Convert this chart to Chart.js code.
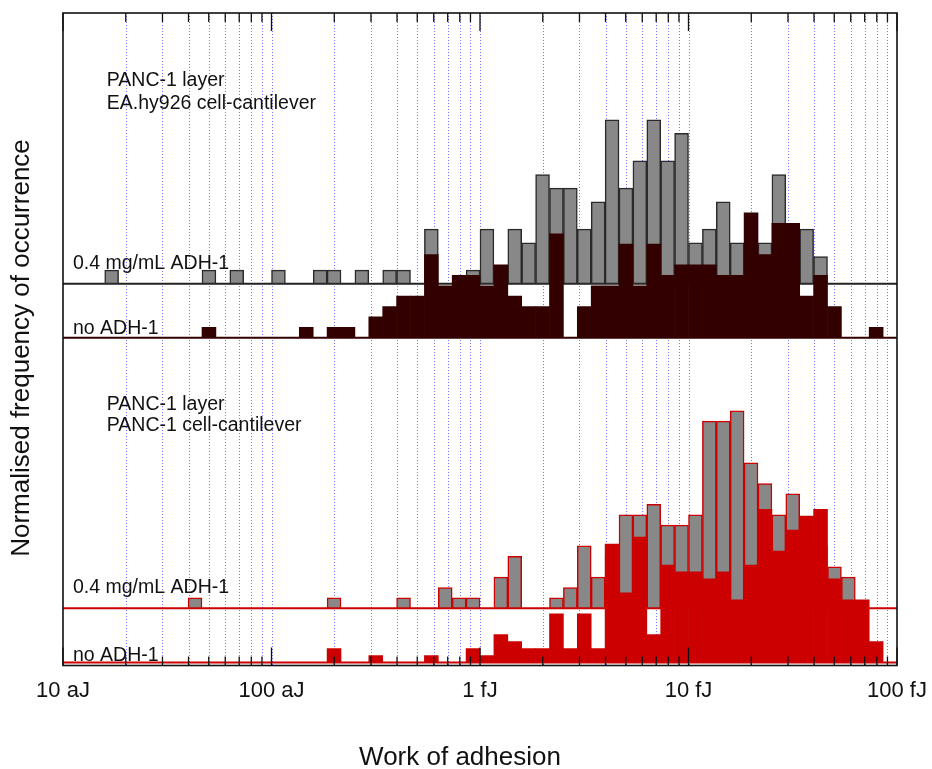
<!DOCTYPE html>
<html>
<head>
<meta charset="utf-8">
<title>Work of adhesion</title>
<script src="https://cdn.jsdelivr.net/npm/chart.js@4.4.1/dist/chart.umd.min.js"></script>
<style>
  body { margin: 0; background: #fff; }
  canvas { display: block; }
</style>
</head>
<body>
<canvas id="adhesion" width="932" height="769"></canvas>
<script>
// Work of adhesion, log10(J): 10 aJ .. 100 fJ, 15 bins per decade
var logMin = -17, logMax = -13, binsPerDecade = 15;
var tickLabels = ['10 aJ', '100 aJ', '1 fJ', '10 fJ', '100 fJ'];

// counts per bin, PANC-1 layer vs EA.hy926 cell-cantilever
var eaAdh = [
  0, 0, 0, 1, 0, 0, 0, 0, 0, 0,
  1, 0, 1, 0, 0, 1, 0, 0, 1, 1,
  0, 1, 0, 1, 1, 0, 4, 0, 0, 1,
  4, 1, 4, 3, 8, 7, 7, 4, 6, 12,
  7, 9, 12, 9, 11, 3, 4, 6, 3, 3,
  3, 8, 2, 4, 2, 0, 0, 0, 0, 0
];
var eaNoAdh = [
  0, 0, 0, 0, 0, 0, 0, 0, 0, 0,
  1, 0, 0, 0, 0, 0, 0, 1, 0, 1,
  1, 0, 2, 3, 4, 4, 8, 5, 6, 6,
  5, 7, 4, 3, 3, 10, 0, 3, 5, 5,
  9, 5, 9, 6, 7, 7, 7, 6, 6, 12,
  8, 11, 11, 4, 6, 3, 0, 0, 1, 0
];

// counts per bin, PANC-1 layer vs PANC-1 cell-cantilever
var pancAdh = [
  0, 0, 0, 0, 0, 0, 0, 0, 0, 1,
  0, 0, 0, 0, 0, 0, 0, 0, 0, 1,
  0, 0, 0, 0, 1, 0, 0, 2, 1, 1,
  0, 3, 5, 0, 0, 1, 2, 6, 3, 5,
  9, 9, 10, 8, 8, 9, 18, 18, 19, 14,
  12, 9, 11, 6, 6, 4, 3, 0, 0, 0
];
var pancNoAdh = [
  0, 0, 0, 0, 0, 0, 0, 0, 0, 0,
  0, 0, 0, 0, 0, 0, 0, 0, 0, 2,
  0, 0, 1, 0, 0, 0, 1, 0, 0, 2,
  1, 4, 3, 2, 2, 7, 2, 7, 2, 17,
  10, 18, 4, 14, 13, 13, 12, 13, 9, 14,
  22, 16, 19, 21, 22, 12, 9, 9, 3, 0
];

var binCentres = eaAdh.map(function (c, k) { return logMin + (k + 0.5) / binsPerDecade; });

// ticks: every decade plus 2..9 in between
var tickValues = [];
for (var d = logMin; d <= logMax; d++) {
  tickValues.push(d);
  if (d < logMax) {
    for (var m = 2; m <= 9; m++) tickValues.push(d + Math.log10(m));
  }
}

// vertical offset (in %) of each histogram in the stack
var stackBase = { eaAdh: 17.9, eaNoAdh: 15.37, pancAdh: 2.68, pancNoAdh: 0.14 };

function histogram(counts, base) {
  var total = counts.reduce(function (a, b) { return a + b; }, 0);
  return counts.map(function (c, k) {
    return { x: binCentres[k], y: c ? [base, base + 100 * c / total] : null };
  });
}

function isMajor(v) { return Math.abs(v - Math.round(v)) < 1e-9; }

var font = "'Liberation Sans', Arial, sans-serif";

var decorations = {
  id: 'decorations',
  beforeDatasetsDraw: function (chart) {
    var ctx = chart.ctx, area = chart.chartArea;
    var x = chart.scales.energy, y = chart.scales.y;
    ctx.save();
    // dotted grid
    ctx.strokeStyle = 'rgba(80, 80, 255, 0.8)';
    ctx.lineWidth = 1;
    ctx.setLineDash([1, 2]);
    tickValues.forEach(function (v) {
      if (v <= logMin || v >= logMax) return;
      var px = Math.round(x.getPixelForValue(v)) + 0.5;
      ctx.beginPath();
      ctx.moveTo(px, area.top);
      ctx.lineTo(px, area.bottom);
      ctx.stroke();
    });
    ctx.setLineDash([]);
    // histogram baselines
    [['eaAdh', '#222'], ['eaNoAdh', '#330000'], ['pancAdh', '#cc0000'], ['pancNoAdh', '#cc0000']].forEach(function (b) {
      var py = y.getPixelForValue(stackBase[b[0]]);
      ctx.strokeStyle = b[1];
      ctx.lineWidth = 2;
      ctx.beginPath();
      ctx.moveTo(area.left, py);
      ctx.lineTo(area.right, py);
      ctx.stroke();
    });
    ctx.restore();
  },
  afterDatasetsDraw: function (chart) {
    var ctx = chart.ctx, area = chart.chartArea;
    var x = chart.scales.energy, y = chart.scales.y;
    ctx.save();
    // inward ticks top and bottom
    ctx.strokeStyle = '#111';
    ctx.lineWidth = 1.3;
    tickValues.forEach(function (v) {
      var px = x.getPixelForValue(v);
      var len = isMajor(v) ? 18 : 9;
      ctx.beginPath();
      ctx.moveTo(px, area.top);
      ctx.lineTo(px, area.top + len);
      ctx.moveTo(px, area.bottom);
      ctx.lineTo(px, area.bottom - len);
      ctx.stroke();
    });
    // frame
    ctx.lineWidth = 1.6;
    ctx.strokeRect(area.left, area.top, area.right - area.left, area.bottom - area.top);
    // panel labels
    ctx.fillStyle = '#111';
    ctx.font = '19.5px ' + font;
    ctx.textBaseline = 'alphabetic';
    ctx.textAlign = 'left';
    [
      ['PANC-1 layer', -16.79, 27.16],
      ['EA.hy926 cell-cantilever', -16.79, 26.12],
      ['0.4 mg/mL ADH-1', -16.952, 18.61],
      ['no ADH-1', -16.952, 15.56],
      ['PANC-1 layer', -16.79, 12.0],
      ['PANC-1 cell-cantilever', -16.79, 10.99],
      ['0.4 mg/mL ADH-1', -16.952, 3.4],
      ['no ADH-1', -16.952, 0.19]
    ].forEach(function (t) {
      ctx.fillText(t[0], x.getPixelForValue(t[1]), y.getPixelForValue(t[2]));
    });
    // axis titles, centred on the figure rather than the frame
    ctx.font = '26px ' + font;
    ctx.textAlign = 'center';
    ctx.textBaseline = 'middle';
    ctx.fillText('Work of adhesion', chart.width / 2 - 6, 758);
    ctx.translate(22, 348);
    ctx.rotate(-Math.PI / 2);
    ctx.fillText('Normalised frequency of occurrence', 0, 0);
    ctx.restore();
  }
};

var barStyle = { grouped: false, barPercentage: 1, categoryPercentage: 1 };

new Chart(document.getElementById('adhesion'), {
  type: 'bar',
  data: {
    // front histograms first so they are drawn over the grey ones
    datasets: [
      Object.assign({
        label: 'EA.hy926, no ADH-1',
        data: histogram(eaNoAdh, stackBase.eaNoAdh),
        backgroundColor: '#330000',
        borderWidth: 0
      }, barStyle),
      Object.assign({
        label: 'PANC-1, no ADH-1',
        data: histogram(pancNoAdh, stackBase.pancNoAdh),
        backgroundColor: '#cc0000',
        borderWidth: 0
      }, barStyle),
      Object.assign({
        label: 'EA.hy926, 0.4 mg/mL ADH-1',
        data: histogram(eaAdh, stackBase.eaAdh),
        backgroundColor: '#888888',
        borderColor: '#2a2a2a',
        borderWidth: 1.5,
        borderSkipped: false
      }, barStyle),
      Object.assign({
        label: 'PANC-1, 0.4 mg/mL ADH-1',
        data: histogram(pancAdh, stackBase.pancAdh),
        backgroundColor: '#888888',
        borderColor: '#cc0000',
        borderWidth: 1.5,
        borderSkipped: false
      }, barStyle)
    ]
  },
  options: {
    responsive: false,
    animation: false,
    layout: { padding: { top: 13, right: 35, left: 0, bottom: 0 } },
    plugins: { legend: { display: false }, tooltip: { enabled: false } },
    scales: {
      // bins live on this one; kept plain so bar widths follow the bin spacing
      x: {
        type: 'linear',
        min: logMin,
        max: logMax,
        offset: false,
        display: false
      },
      // log-decade ticks and labels
      energy: {
        type: 'linear',
        position: 'bottom',
        min: logMin,
        max: logMax,
        offset: false,
        grid: { display: false, drawTicks: false },
        border: { display: false },
        afterBuildTicks: function (axis) {
          axis.ticks = tickValues.map(function (v) { return { value: v }; });
        },
        afterFit: function (axis) {
          axis.height = 103.5;
          // end labels may hang past the frame
          axis.paddingLeft = 0;
          axis.paddingRight = 0;
        },
        ticks: {
          autoSkip: false,
          maxRotation: 0,
          padding: 12,
          color: '#111',
          font: { family: font, size: 22 },
          callback: function (value) {
            return isMajor(value) ? tickLabels[Math.round(value - logMin)] : '';
          }
        }
      },
      y: {
        min: 0,
        max: 30.6,
        grid: { display: false },
        border: { display: false },
        ticks: { display: false },
        afterFit: function (axis) { axis.width = 63; }
      }
    }
  },
  plugins: [decorations]
});
</script>
</body>
</html>
